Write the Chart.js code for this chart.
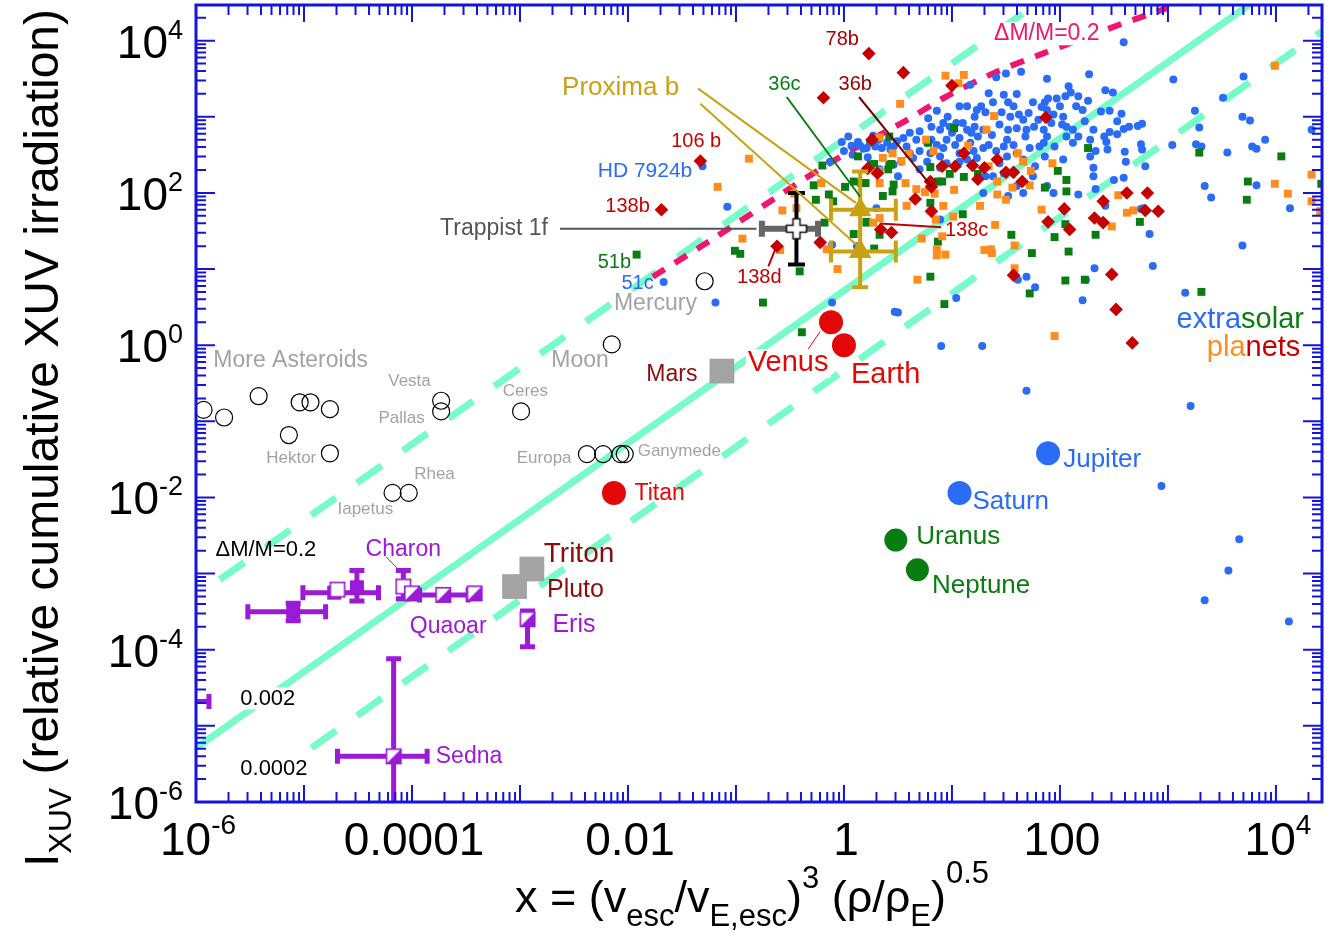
<!DOCTYPE html>
<html>
<head>
<meta charset="utf-8">
<title>XUV irradiation vs escape velocity</title>
<script src="https://cdn.jsdelivr.net/npm/chart.js@4.4.1/dist/chart.umd.min.js"></script>
<style>
  html, body { margin: 0; padding: 0; background: #fff; }
  canvas { display: block; }
</style>
</head>
<body>
<canvas id="chart" width="1337" height="951"></canvas>
<script>
// all values below are [log10 x, log10 y]
const xMin = 1e-6, xMax = 2.67e4;
const yMin = 1e-6, yMax = 2.94e4;
const xTickValues = [1e-6, 1e-4, 1e-2, 1, 1e2, 1e4];
const xTickLabels = [['10', '-6'], ['0.0001', ''], ['0.01', ''], ['1', ''], ['100', ''], ['10', '4']];
const yTickValues = [1e-6, 1e-4, 1e-2, 1, 1e2, 1e4];
const yTickLabels = [['10', '-6'], ['10', '-4'], ['10', '-2'], ['10', '0'], ['10', '2'], ['10', '4']];

// guide lines
const lineSolid = [[-6.0, -5.29], [3.75, 4.47]];     // 0.002
const lineUpper = [[-5.78, -3.08], [1.77, 4.47]];    // dM/M = 0.2
const lineLower = [[-4.93, -5.29], [4.42, 4.12]];    // 0.0002
const curvePink = [[-1.77, 0.90], [-1.22, 1.39], [-0.37, 2.18], [0.08, 2.57], [0.55, 2.93],
  [0.94, 3.26], [1.41, 3.59], [1.84, 3.83], [2.57, 4.22], [3.0, 4.43]];

// extrasolar planets
const planetsBlue = [
  [1.41,3.52],[1.50,3.57],[1.64,3.59],[1.88,3.50],[2.27,3.56],[2.08,3.40],[2.10,3.32],[2.17,3.27],[2.26,3.21],[2.21,3.09],
  [2.05,3.27],[1.97,3.24],[1.86,3.19],[1.83,3.13],[1.75,3.19],[1.60,3.30],[1.52,3.19],[1.38,3.19],[1.34,3.31],[1.17,3.42],
  [1.14,3.14],[1.23,3.09],[1.31,3.06],[1.46,3.06],[1.54,3.00],[1.62,3.03],[1.71,3.05],[1.88,3.09],[1.94,3.03],[2.03,3.00],
  [2.02,2.90],[1.92,2.92],[1.85,2.83],[1.76,2.87],[1.69,2.83],[1.60,2.85],[1.52,2.83],[1.44,2.90],[1.29,2.83],[1.24,2.74],
  [1.14,2.83],[1.04,2.92],[0.96,3.00],[0.86,3.08],[0.78,2.98],[0.81,2.87],[0.89,2.83],[1.00,2.79],[1.07,2.72],[1.17,2.66],
  [1.34,2.63],[1.51,2.70],[1.68,2.74],[1.85,2.66],[2.06,2.74],[2.17,2.74],[2.28,2.70],[2.12,2.83],[2.31,2.83],[0.95,2.70],
  [0.86,2.63],[0.77,2.66],[0.67,2.70],[0.61,2.79],[0.55,2.72],[0.49,2.68],[0.40,2.66],[0.32,2.70],[0.24,2.66],[0.35,2.59],
  [0.46,2.61],[0.61,2.52],[0.70,2.55],[0.80,2.52],[0.89,2.48],[1.07,2.52],[1.20,2.55],[1.29,2.59],[1.41,2.55],[1.51,2.48],
  [1.60,2.52],[1.81,2.61],[1.95,2.61],[1.86,2.48],[1.66,2.44],[1.14,2.44],[0.95,2.39],[0.77,2.41],[0.64,2.46],[0.50,2.22],
  [0.33,2.31],[1.38,2.22],[1.48,2.26],[1.60,2.09],[1.75,2.22],[1.88,2.09],[1.31,2.22],[1.66,2.00],[1.29,2.00],[2.17,1.98],
  [2.31,2.22],[2.28,2.48],[1.94,2.00],[1.52,1.96],
  [1.07,3.14],[0.98,2.87],[0.92,2.92],[1.10,2.92],[1.21,2.87],[1.18,2.79],[1.21,3.00],[1.27,3.14],[1.48,3.29],[1.57,3.14],
  [1.66,2.96],[1.80,2.96],[1.89,3.24],[2.00,3.14],[2.15,3.14],[2.23,2.94],[2.06,2.87],[2.12,2.66],[1.88,2.74],[1.72,2.59],
  [1.57,2.63],[1.48,2.61],[1.37,2.76],[1.03,2.63],[0.92,2.59],[0.81,2.70],[0.70,2.81],[0.58,2.61],[0.43,2.57],[0.29,2.61],
  [0.21,2.59],[0.89,2.33],[0.70,2.31],[0.53,2.41],[0.46,2.37],[1.77,2.35],[2.03,2.44],[1.44,2.39],[1.23,2.46],[1.07,2.41],
  [0.00,2.55],[0.08,2.50],[0.18,2.58],[0.22,2.47],[0.27,2.75],[0.07,2.62],
  [-1.08,1.82],[-1.31,2.35],[-1.67,0.83],[-1.19,0.56],[-0.02,2.67],[0.04,2.74],[0.13,2.67],[0.15,2.62],[-0.13,2.41],
  [-0.11,1.32],[0.12,1.30],[-0.11,0.56],[0.50,0.43],[0.30,1.80],[0.89,1.65],[1.61,0.86],[1.69,0.90],[1.77,0.76],[1.04,0.62],
  [0.47,0.44],[0.90,-0.01],[1.28,-0.01],[2.24,0.86],[2.32,1.01],[2.21,0.59],[1.69,-0.60],[3.21,-0.80],[2.94,-1.85],
  [3.66,-2.55],[3.56,-2.96],[3.34,-3.35],[4.12,-3.63],
  [2.59,3.98],[3.05,3.49],[2.42,3.35],[2.49,3.32],[2.38,3.07],[2.46,3.08],[2.57,3.04],[2.53,2.94],[2.59,2.84],[2.64,2.87],
  [2.72,2.88],[2.76,2.91],[2.53,2.77],[2.46,2.80],[2.41,2.74],[2.43,2.67],[2.33,2.55],[2.44,2.57],[2.60,2.54],[2.75,2.64],
  [2.76,2.57],[2.61,2.41],[2.79,2.35],[2.31,2.33],[2.50,2.17],[2.59,2.20],[2.33,2.05],[2.42,1.83],[2.75,1.79],[2.77,1.80],
  [2.83,1.46],[2.86,1.04],[3.16,0.69],[3.25,3.08],[3.29,2.86],[3.04,2.63],[3.26,2.64],[3.31,2.61],[3.55,2.53],[3.51,3.25],
  [3.70,3.53],[3.69,3.00],[3.76,2.95],[3.90,2.70],[3.78,2.61],[3.82,2.58],[4.33,2.83],[3.34,2.09],[3.40,1.94],[3.82,2.10],
  [4.13,1.80],[3.69,1.31]
];
const planetsOrange = [
  [0.94,3.54],[1.11,3.55],[1.06,3.44],[0.52,3.17],[1.39,3.01],[1.32,2.83],[0.33,2.73],[0.76,2.70],[1.15,2.62],[0.83,2.55],
  [0.45,2.52],[0.60,2.51],[0.36,2.46],[0.53,2.42],[1.61,2.52],[1.66,2.41],[1.34,2.35],[1.73,2.29],[1.93,2.39],[0.33,2.13],
  [0.32,2.29],[0.57,2.13],[1.42,2.15],[1.72,2.10],[1.56,2.07],[0.67,2.05],[0.75,2.01],[0.84,1.99],[1.02,2.04],[1.42,1.98],
  [1.50,1.91],[0.92,1.83],[0.81,1.76],[0.58,1.83],[1.01,1.69],[0.85,1.65],[1.26,1.83],[1.83,1.78],[1.40,1.58],[0.27,1.61],
  [0.33,1.67],[0.91,1.43],[0.72,1.40],[0.86,1.26],[0.86,1.18],[0.94,1.19],[1.30,1.25],[1.36,1.26],[1.37,1.21],[1.58,1.31],
  [1.58,1.01],[0.68,0.86],[1.95,0.12],
  [-0.88,2.45],[-1.17,2.08],[-0.57,1.77],[-0.44,1.80],[-0.46,1.99],[-0.21,2.13],[-0.94,1.40],[-0.59,1.25],[-0.16,1.26],
  [-0.06,1.00],
  [3.99,3.67],[4.33,2.24],[3.99,2.12],[4.11,1.99],[4.33,1.89],[4.41,1.76],[2.54,1.97],[2.62,1.74],[2.68,1.77],[2.48,1.56]
];
const planetsGreen = [
  [1.02,2.85],[0.42,2.74],[0.78,2.66],[0.25,2.37],[0.42,2.37],[0.80,2.34],[0.98,2.25],[1.24,2.25],[0.87,2.15],[1.11,2.21],
  [1.98,2.29],[2.06,2.17],[2.06,2.02],[1.86,2.07],[2.26,2.59],[0.20,2.13],[0.45,2.02],[0.36,1.96],
  [0.80,1.87],[1.10,1.72],[0.21,1.62],[0.33,1.45],[0.28,1.27],[0.87,1.36],[1.55,1.45],[2.05,1.59],[1.95,1.42],[1.74,1.21],
  [2.08,1.23],[2.33,1.45],[2.05,0.85],[2.23,0.86],[1.72,0.68],[0.80,0.90],[0.93,0.54],
  [-0.20,2.36],[-0.28,2.10],[-0.26,1.91],[-0.10,1.89],[0.01,2.08],[0.09,2.15],[0.16,2.13],[-0.18,1.61],[0.09,1.46],
  [0.13,2.48],[0.21,1.61],[-1.01,1.24],[-0.96,1.20],[-0.41,0.97],[-0.75,0.56],[-1.92,1.19],
  [0.28,2.38],[0.44,2.38],[0.41,2.31],[-0.14,1.98],[0.46,2.11],[0.91,2.15],[2.74,1.62],[3.29,2.53],[4.05,2.48],
  [3.74,2.15],[3.73,1.91],[4.42,2.12],[3.31,0.70],[-0.39,0.17]
];
const planetsRed = [
  [0.23,3.83],[0.55,3.58],[1.00,3.41],[-0.19,3.25],[0.26,2.70],[0.22,2.32],[0.31,2.26],[0.80,2.15],[0.81,2.08],[0.66,1.92],
  [0.81,1.76],[0.91,2.35],[1.03,2.35],[1.11,2.52],[1.19,2.36],[1.30,2.33],[1.24,2.18],[1.42,2.44],[1.50,2.27],[1.57,2.27],
  [1.65,2.15],[1.87,2.99],[0.34,1.52],[0.44,1.48],[-0.22,1.35],[-0.62,1.30],[1.89,1.62],[2.04,1.79],[2.32,1.67],[2.40,1.61],
  [2.40,1.89],[2.09,1.52],[2.62,2.00],[2.81,2.00],[2.91,1.76],[2.79,1.77],[1.57,0.92],[2.48,0.93],[2.52,0.47],[2.67,0.03],
  [-1.33,2.42],[-1.69,1.78]
];

// solar system bodies
const smallBodies = [[-5.93,-0.85],[-5.74,-0.95],[-5.42,-0.67],[-5.14,-1.18],[-5.04,-0.75],[-4.94,-0.75],[-4.76,-0.84],
  [-4.76,-1.42],[-3.73,-0.73],[-3.73,-0.87],[-2.99,-0.87],[-4.18,-1.94],[-4.03,-1.94],[-2.38,-1.43],[-2.23,-1.43],
  [-2.07,-1.43],[-2.03,-1.43],[-2.15,0.01],[-1.29,0.84]];
const rockyRed = [[-0.12,0.30],[0.0,0.0],[-2.13,-1.94]];           // Venus, Earth, Titan
const gasGiants = [[1.89,-1.42],[1.07,-1.94]];                      // Jupiter, Saturn
const iceGiants = [[0.48,-2.56],[0.68,-2.95]];                      // Uranus, Neptune
const graySquares = [[-1.13,-0.34],[-2.89,-2.94],[-3.05,-3.17]];   // Mars, Triton, Pluto

// trans-Neptunian objects with error bars
const tnoHalf = [[-4.00,-3.26],[-3.71,-3.28],[-3.42,-3.26],[-2.93,-3.60],[-4.17,-5.40]];
const tnoHalfErr = [null, { x: [-3.93,-3.48] }, null, { y: [-3.49,-3.96] }, { x: [-4.69,-3.86], y: [-4.12,-6.34] }];
const tnoOpen = [[-4.08,-3.17],[-4.69,-3.21]];
const tnoOpenErr = [{ y: [-2.96,-3.33] }, null];
const tnoFilled = [[-5.10,-3.50],[-4.72,-3.25],[-4.51,-3.18],[-6.06,-4.68]];
const tnoFilledErr = [{ x: [-5.52,-4.80], y: [-3.39,-3.62] }, { x: [-5.01,-4.31] }, { y: [-2.96,-3.36] }, { x: [-6.24,-5.88] }];

const trappist = [[-0.44,1.53]];
const trappistErr = [{ x: [-0.76,-0.24], y: [2.00,1.06] }];
const proxima = [[0.15,1.78],[0.15,1.23]];
const proximaErr = [{ x: [-0.12,0.48], y: [2.28,1.78] }, { x: [-0.12,0.48], y: [1.78,0.76] }];

const FONT = "'Liberation Sans', Arial, Helvetica, sans-serif";
const AXIS_BLUE = '#1414dc';
const COL = { blue: '#2a6cf5', green: '#0a7d12', orange: '#ff8c1c', red: '#c40000', bright: '#e30808',
  dark: '#8a0c0c', gray: '#a3a3a3', purple: '#9a1ad6', gold: '#c9a212', aqua: '#76fbc9', pink: '#f2156e' };

// annotation texts, anchored at [log10 x, log10 y] (left edge, vertical middle)
const notes = [
  { t: 'More Asteroids', at: [-5.84,-0.20], c: COL.gray, s: 23 },
  { t: 'Moon', at: [-2.71,-0.20], c: COL.gray, s: 23 },
  { t: 'Mercury', at: [-2.13,0.55], c: COL.gray, s: 23 },
  { t: 'Vesta', at: [-4.22,-0.48], c: COL.gray, s: 17 },
  { t: 'Pallas', at: [-4.31,-0.96], c: COL.gray, s: 17 },
  { t: 'Ceres', at: [-3.16,-0.60], c: COL.gray, s: 17 },
  { t: 'Hektor', at: [-5.35,-1.49], c: COL.gray, s: 17 },
  { t: 'Europa', at: [-3.03,-1.49], c: COL.gray, s: 17 },
  { t: 'Ganymede', at: [-1.91,-1.40], c: COL.gray, s: 17 },
  { t: 'Rhea', at: [-3.98,-1.70], c: COL.gray, s: 17 },
  { t: 'Iapetus', at: [-4.69,-2.16], c: COL.gray, s: 17 },
  { t: 'Titan', at: [-1.94,-1.95], c: COL.bright, s: 23 },
  { t: 'Mars', at: [-1.83,-0.39], c: COL.dark, s: 23 },
  { t: 'Venus', at: [-0.89,-0.24], c: COL.bright, s: 29, bg: true },
  { t: 'Earth', at: [0.065,-0.39], c: COL.bright, s: 29 },
  { t: 'Jupiter', at: [2.03,-1.51], c: COL.blue, s: 26 },
  { t: 'Saturn', at: [1.19,-2.06], c: COL.blue, s: 26 },
  { t: 'Uranus', at: [0.67,-2.52], c: COL.green, s: 26 },
  { t: 'Neptune', at: [0.815,-3.16], c: COL.green, s: 26 },
  { t: 'Triton', at: [-2.78,-2.74], c: COL.dark, s: 28 },
  { t: 'Pluto', at: [-2.75,-3.22], c: COL.dark, s: 25 },
  { t: 'Charon', at: [-4.43,-2.69], c: COL.purple, s: 23 },
  { t: 'Quaoar', at: [-4.02,-3.70], c: COL.purple, s: 23 },
  { t: 'Eris', at: [-2.70,-3.68], c: COL.purple, s: 25 },
  { t: 'Sedna', at: [-3.78,-5.41], c: COL.purple, s: 23 },
  { t: '\u0394M/M=0.2', at: [-5.82,-2.69], c: '#000', s: 22 },
  { t: '0.002', at: [-5.59,-4.64], c: '#000', s: 22, bg: true },
  { t: '0.0002', at: [-5.59,-5.57], c: '#000', s: 22, bg: true },
  { t: 'Proxima b', at: [-2.61,3.38], c: COL.gold, s: 26 },
  { t: '36c', at: [-0.70,3.42], c: COL.green, s: 20 },
  { t: '36b', at: [-0.05,3.42], c: '#9a0000', s: 20 },
  { t: '78b', at: [-0.17,4.01], c: '#a80000', s: 20 },
  { t: '106 b', at: [-1.60,2.67], c: COL.red, s: 20 },
  { t: 'HD 7924b', at: [-2.28,2.29], c: COL.blue, s: 21 },
  { t: '138b', at: [-2.21,1.82], c: COL.red, s: 20 },
  { t: 'Trappist 1f', at: [-3.74,1.53], c: '#555', s: 23 },
  { t: '51b', at: [-2.28,1.09], c: COL.green, s: 20 },
  { t: '51c', at: [-2.06,0.81], c: COL.blue, s: 20 },
  { t: '138d', at: [-0.99,0.89], c: COL.red, s: 20 },
  { t: '138c', at: [0.935,1.51], c: COL.red, s: 20 },
  { t: '\u0394M/M=0.2', at: [1.39,4.09], c: COL.pink, s: 23, bg: true },
  { parts: [['extra', COL.blue], ['solar', COL.green]], at: [3.08,0.33], s: 29 },
  { parts: [['pla', COL.orange], ['nets', COL.red]], at: [3.36,-0.04], s: 29 }
];
const pointers = [
  { from: [-1.35,3.37], to: [0.11,1.87], c: COL.gold, w: 2 },
  { from: [-1.33,3.17], to: [0.13,1.30], c: COL.gold, w: 2 },
  { from: [-0.53,3.26], to: [0.15,1.95], c: COL.green, w: 2 },
  { from: [0.14,3.26], to: [0.815,2.08], c: '#7a0000', w: 2 },
  { from: [0.90,1.55], to: [0.33,1.60], c: COL.red, w: 2 },
  { from: [-0.70,1.035], to: [-0.63,1.28], c: COL.red, w: 2 },
  { from: [-2.63,1.53], to: [-0.81,1.53], c: '#555', w: 2 },
  { from: [-4.24,-2.78], to: [-4.08,-3.01], c: COL.purple, w: 1 },
  { from: [-0.35,-0.09], to: [-0.22,0.18], c: COL.bright, w: 1 }
];

const lg = v => Math.pow(10, v);
const pts = arr => arr.map(p => ({ x: lg(p[0]), y: lg(p[1]) }));

function makeSquareIcon(size, color, mode) {
  const c = document.createElement('canvas');
  c.width = c.height = size + 2;
  const g = c.getContext('2d');
  g.fillStyle = mode === 'filled' ? color : '#fff';
  g.fillRect(1, 1, size, size);
  if (mode === 'half') {
    g.fillStyle = color;
    g.beginPath(); g.moveTo(1 + size, 1); g.lineTo(1 + size, 1 + size); g.lineTo(1, 1 + size); g.closePath(); g.fill();
  }
  g.strokeStyle = color; g.lineWidth = 1.6;
  g.strokeRect(1.8, 1.8, size - 1.6, size - 1.6);
  return c;
}
function makeCross() {
  const c = document.createElement('canvas');
  c.width = c.height = 24;
  const g = c.getContext('2d');
  const a = 3.5, b = 10;
  const poly = [[-a,-b],[a,-b],[a,-a],[b,-a],[b,a],[a,a],[a,b],[-a,b],[-a,a],[-b,a],[-b,-a],[-a,-a]];
  g.beginPath();
  poly.forEach((p, i) => i ? g.lineTo(12 + p[0], 12 + p[1]) : g.moveTo(12 + p[0], 12 + p[1]));
  g.closePath();
  g.fillStyle = '#fff'; g.fill();
  g.strokeStyle = '#111'; g.lineWidth = 1.5; g.stroke();
  return c;
}

function markers(data, style, color, radius, order, extra) {
  return Object.assign({
    data: pts(data), order, showLine: false,
    pointStyle: style, pointRadius: radius,
    pointBackgroundColor: color, pointBorderColor: color, pointBorderWidth: 0
  }, extra || {});
}
function guide(data, color, width, dash, order, tension) {
  return { data: pts(data), order, showLine: true, borderColor: color, borderWidth: width,
    borderDash: dash, pointRadius: 0, fill: false, clip: 0, tension: tension || 0 };
}

const errorBars = {
  id: 'errorBars',
  beforeDatasetDraw(chart, args) {
    const ds = chart.data.datasets[args.index];
    if (!ds.errs) return;
    const { ctx, chartArea: a, scales: { x, y } } = chart;
    ctx.save();
    ctx.beginPath(); ctx.rect(a.left, a.top, a.right - a.left, a.bottom - a.top); ctx.clip();
    ctx.lineCap = 'butt';
    ds.errs.forEach((e, i) => {
      if (!e) return;
      const px = x.getPixelForValue(ds.data[i].x), py = y.getPixelForValue(ds.data[i].y);
      if (e.x) {
        const x0 = x.getPixelForValue(lg(e.x[0])), x1 = x.getPixelForValue(lg(e.x[1]));
        ctx.strokeStyle = ds.errColorX || ds.errColor; ctx.lineWidth = ds.errWidthX || ds.errWidth;
        const h = (ds.capX || ds.cap) / 2;
        ctx.beginPath();
        ctx.moveTo(x0, py); ctx.lineTo(x1, py);
        ctx.moveTo(x0, py - h); ctx.lineTo(x0, py + h);
        ctx.moveTo(x1, py - h); ctx.lineTo(x1, py + h);
        ctx.stroke();
      }
      if (e.y) {
        const y0 = y.getPixelForValue(lg(e.y[0])), y1 = y.getPixelForValue(lg(e.y[1]));
        ctx.strokeStyle = ds.errColorY || ds.errColor; ctx.lineWidth = ds.errWidthY || ds.errWidth;
        const h = (ds.capY || ds.cap) / 2;
        ctx.beginPath();
        ctx.moveTo(px, y0); ctx.lineTo(px, y1);
        ctx.moveTo(px - h, y0); ctx.lineTo(px + h, y0);
        ctx.moveTo(px - h, y1); ctx.lineTo(px + h, y1);
        ctx.stroke();
      }
    });
    ctx.restore();
  }
};

function rich(ctx, parts, x, y, align) {
  let w = 0;
  parts.forEach(p => { ctx.font = p[1] + 'px ' + FONT; w += ctx.measureText(p[0]).width; });
  let cx = align === 'center' ? x - w / 2 : align === 'right' ? x - w : x;
  parts.forEach(p => {
    ctx.font = p[1] + 'px ' + FONT;
    ctx.fillText(p[0], cx, y + p[2]);
    cx += ctx.measureText(p[0]).width;
  });
}

const notesPlugin = {
  id: 'notes',
  afterDatasetsDraw(chart) {
    const { ctx, scales: { x, y } } = chart;
    const X = v => x.getPixelForValue(lg(v)), Y = v => y.getPixelForValue(lg(v));
    ctx.save();
    pointers.forEach(p => {
      ctx.strokeStyle = p.c; ctx.lineWidth = p.w;
      ctx.beginPath(); ctx.moveTo(X(p.from[0]), Y(p.from[1])); ctx.lineTo(X(p.to[0]), Y(p.to[1])); ctx.stroke();
    });
    ctx.textBaseline = 'middle'; ctx.textAlign = 'left';
    notes.forEach(n => {
      ctx.font = n.s + 'px ' + FONT;
      let cx = X(n.at[0]);
      const cy = Y(n.at[1]);
      const parts = n.parts || [[n.t, n.c]];
      if (n.bg) {
        const w = parts.reduce((s, p) => s + ctx.measureText(p[0]).width, 0);
        ctx.fillStyle = '#fff';
        ctx.fillRect(cx - 2, cy - n.s * 0.5, w + 4, n.s);
      }
      parts.forEach(([t, c]) => {
        ctx.fillStyle = c; ctx.fillText(t, cx, cy); cx += ctx.measureText(t).width;
      });
    });
    ctx.restore();
  }
};

const axesPlugin = {
  id: 'axes',
  afterDraw(chart) {
    const { ctx, chartArea: a, scales: { x, y } } = chart;
    ctx.save();
    ctx.strokeStyle = AXIS_BLUE;
    ctx.lineWidth = 2;
    ctx.beginPath();
    for (let e = -6; e <= 4; e++) {
      for (let m = 1; m <= 9; m++) {
        const v = m * Math.pow(10, e);
        if (v >= xMin && v <= xMax) {
          const px = x.getPixelForValue(v), L = m === 1 ? 17 : 10;
          ctx.moveTo(px, a.bottom); ctx.lineTo(px, a.bottom - L);
          ctx.moveTo(px, a.top); ctx.lineTo(px, a.top + L);
        }
        if (v >= yMin && v <= yMax) {
          const py = y.getPixelForValue(v), L = m === 1 ? 19 : 10;
          ctx.moveTo(a.left, py); ctx.lineTo(a.left + L, py);
          ctx.moveTo(a.right, py); ctx.lineTo(a.right - L, py);
        }
      }
    }
    ctx.stroke();
    ctx.lineWidth = 3;
    ctx.strokeRect(a.left, a.top, a.right - a.left, a.bottom - a.top);

    ctx.fillStyle = '#000';
    ctx.textAlign = 'left'; ctx.textBaseline = 'alphabetic';
    yTickValues.forEach((v, i) => {
      const [base, exp] = yTickLabels[i];
      rich(ctx, [[base, 46, 0], [exp, 27, -19]], 183, y.getPixelForValue(v) + 17, 'right');
    });
    xTickValues.forEach((v, i) => {
      const [base, exp] = xTickLabels[i];
      const parts = exp ? [[base, 46, 0], [exp, 28, -21]] : [[base, 46, 0]];
      rich(ctx, parts, x.getPixelForValue(v) + 2, 855, 'center');
    });

    rich(ctx, [['x = (v', 45, 0], ['esc', 31, 14], ['/v', 45, 0], ['E,esc', 31, 14], [')', 45, 0], ['3', 31, -24],
      [' (\u03c1/\u03c1', 45, 0], ['E', 31, 14], [')', 45, 0], ['0.5', 31, -29]], 752, 912, 'center');

    ctx.translate(58, 438);
    ctx.rotate(-Math.PI / 2);
    rich(ctx, [['I', 48, 0], ['XUV', 32, 13], [' (relative cumulative XUV irradiation)', 48, 0]], 0, 0, 'center');
    ctx.restore();
  }
};

const halfIcon = makeSquareIcon(16, COL.purple, 'half');
const openIcon = makeSquareIcon(16, COL.purple, 'open');
const filledIcon = makeSquareIcon(14, COL.purple, 'filled');
const crossIcon = makeCross();
const purpleErr = { errColor: COL.purple, errWidth: 5, cap: 15 };

new Chart(document.getElementById('chart'), {
  type: 'scatter',
  data: {
    datasets: [
      guide(lineSolid, COL.aqua, 7, [], 30),
      guide(lineUpper, COL.aqua, 7, [30, 26], 30),
      guide(lineLower, COL.aqua, 7, [30, 26], 30),
      guide(curvePink, COL.pink, 6, [14, 12], 29, 0.25),
      markers(planetsBlue, 'circle', COL.blue, 4, 25),
      markers(planetsGreen, 'rect', COL.green, 5.6, 24),
      markers(planetsOrange, 'rect', COL.orange, 5.6, 23),
      markers(planetsRed, 'rectRot', COL.red, 6.8, 22),
      markers(smallBodies, 'circle', 'rgba(0,0,0,0)', 8.5, 20, { pointBorderColor: '#000', pointBorderWidth: 1.2 }),
      markers(rockyRed, 'circle', COL.bright, 12, 18),
      markers(gasGiants, 'circle', COL.blue, 12, 18),
      markers(iceGiants, 'circle', COL.green, 11.5, 18),
      markers(graySquares, 'rect', '#a3a3a3', 17.5, 18),
      markers(tnoFilled, filledIcon, COL.purple, 8, 16, Object.assign({ errs: tnoFilledErr }, purpleErr)),
      markers(tnoOpen, openIcon, COL.purple, 8, 15, Object.assign({ errs: tnoOpenErr }, purpleErr)),
      markers(tnoHalf, halfIcon, COL.purple, 8, 14, Object.assign({ errs: tnoHalfErr }, purpleErr)),
      markers(trappist, crossIcon, '#fff', 10, 12, { errs: trappistErr, errColorX: '#666', errColorY: '#000',
        errWidthX: 6, errWidthY: 4, capX: 16, capY: 17 }),
      markers(proxima, 'triangle', COL.gold, 13, 11, { errs: proximaErr, errColor: COL.gold, errWidth: 4, capX: 22, capY: 16 })
    ]
  },
  options: {
    responsive: false,
    animation: false,
    events: [],
    layout: { autoPadding: false, padding: { left: 0, right: 15, top: 5, bottom: 0 } },
    plugins: { legend: { display: false }, tooltip: { enabled: false } },
    scales: {
      x: { type: 'logarithmic', min: xMin, max: xMax, ticks: { display: false }, grid: { display: false },
        border: { display: false }, afterFit: s => { s.height = 149; } },
      y: { type: 'logarithmic', min: yMin, max: yMax, ticks: { display: false }, grid: { display: false },
        border: { display: false }, afterFit: s => { s.width = 196; } }
    }
  },
  plugins: [errorBars, notesPlugin, axesPlugin]
});
</script>
</body>
</html>
